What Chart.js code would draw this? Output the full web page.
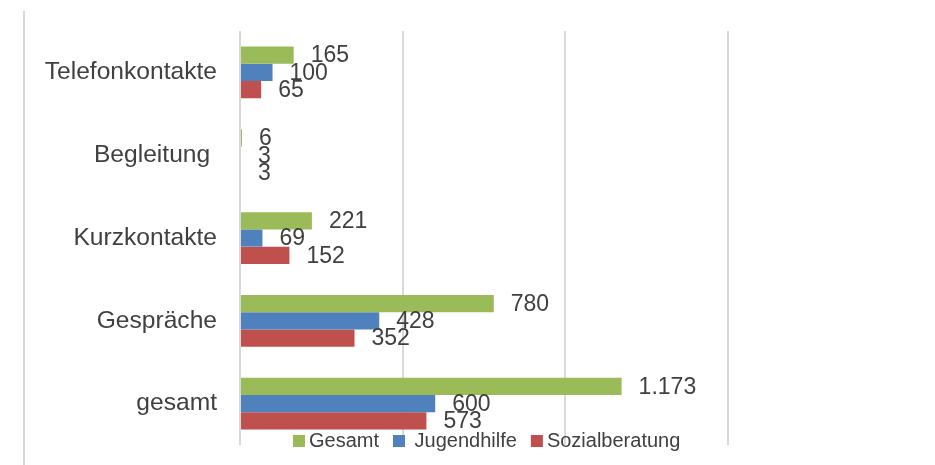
<!DOCTYPE html>
<html>
<head>
<meta charset="utf-8">
<script src="https://cdn.jsdelivr.net/npm/chart.js@4.4.0/dist/chart.umd.min.js"></script>
<style>
  html, body { margin: 0; padding: 0; background: #fff; }
  #wrap { position: relative; width: 935px; height: 465px; }
  #frame { position: absolute; left: 23px; top: 11px; height: 454px; border-left: 2px solid #d9d9d9; }
</style>
</head>
<body>
<div id="wrap">
  <div id="frame"></div>
  <canvas id="balken"></canvas>
</div>
<script>
const categories = ["Telefonkontakte", "Begleitung ", "Kurzkontakte", "Gespräche", "gesamt"];
const seriesNames = ["Gesamt", " Jugendhilfe", "Sozialberatung"];
const gesamt = [165, 6, 221, 780, 1173];
const jugendhilfe = [100, 3, 69, 428, 600];
const sozialberatung = [65, 3, 152, 352, 573];
const xTicks = [0, 500, 1000, 1500];

const colors = ["#9BBB59", "#4F81BD", "#C0504D"];
const textColor = "#404040";
const fontFamily = "'Liberation Sans', Arial, sans-serif";

function formatDe(v) {
  return String(v).replace(/\B(?=(\d{3})+(?!\d))/g, ".");
}

// Werte rechts neben den Balken
const valueLabels = {
  id: "valueLabels",
  afterDatasetsDraw(chart) {
    const ctx = chart.ctx;
    ctx.save();
    ctx.font = "23px " + fontFamily;
    ctx.fillStyle = textColor;
    ctx.textAlign = "left";
    ctx.textBaseline = "middle";
    chart.data.datasets.forEach((ds, i) => {
      chart.getDatasetMeta(i).data.forEach((bar, j) => {
        ctx.fillText(formatDe(ds.data[j]), bar.x + 17, bar.y + 1);
      });
    });
    ctx.restore();
  },
};

// Legende unten, ueber dem Diagrammbereich
const bottomLegend = {
  id: "bottomLegend",
  afterDraw(chart) {
    const ctx = chart.ctx;
    ctx.save();
    ctx.font = "20px " + fontFamily;
    ctx.textBaseline = "middle";
    ctx.textAlign = "left";
    let x = 293;
    const y = 441;
    chart.data.datasets.forEach((ds) => {
      ctx.fillStyle = ds.backgroundColor;
      ctx.fillRect(x, y - 6, 12, 12);
      x += 16;
      ctx.fillStyle = textColor;
      ctx.fillText(ds.label, x, y);
      x += ctx.measureText(ds.label).width + 14;
    });
    ctx.restore();
  },
};

const datasets = [gesamt, jugendhilfe, sozialberatung].map((values, i) => ({
  label: seriesNames[i],
  data: values,
  backgroundColor: colors[i],
  categoryPercentage: 0.625,
  barPercentage: 1,
}));

new Chart(document.getElementById("balken"), {
  type: "bar",
  data: { labels: categories, datasets: datasets },
  options: {
    indexAxis: "y",
    responsive: true,
    maintainAspectRatio: false,
    animation: false,
    layout: { padding: { top: 31, bottom: 20, right: 207, left: 0 } },
    plugins: {
      legend: { display: false },
      tooltip: { enabled: false },
    },
    scales: {
      x: {
        min: 0,
        max: 1500,
        afterBuildTicks(scale) {
          scale.ticks = xTicks.map((v) => ({ value: v }));
        },
        afterFit(scale) {
          scale.height = 0;
          scale.paddingLeft = 0;
          scale.paddingRight = 0;
        },
        ticks: { display: false },
        grid: { color: "#d9d9d9", lineWidth: 2, drawTicks: false },
        border: { display: false },
      },
      y: {
        afterFit(scale) {
          scale.width = 240;
          scale.paddingTop = 0;
          scale.paddingBottom = 0;
        },
        grid: { display: false, drawTicks: false },
        border: { display: false },
        ticks: {
          padding: 23,
          color: textColor,
          font: { size: 24.6, family: fontFamily },
        },
      },
    },
  },
  plugins: [valueLabels, bottomLegend],
});
</script>
</body>
</html>
